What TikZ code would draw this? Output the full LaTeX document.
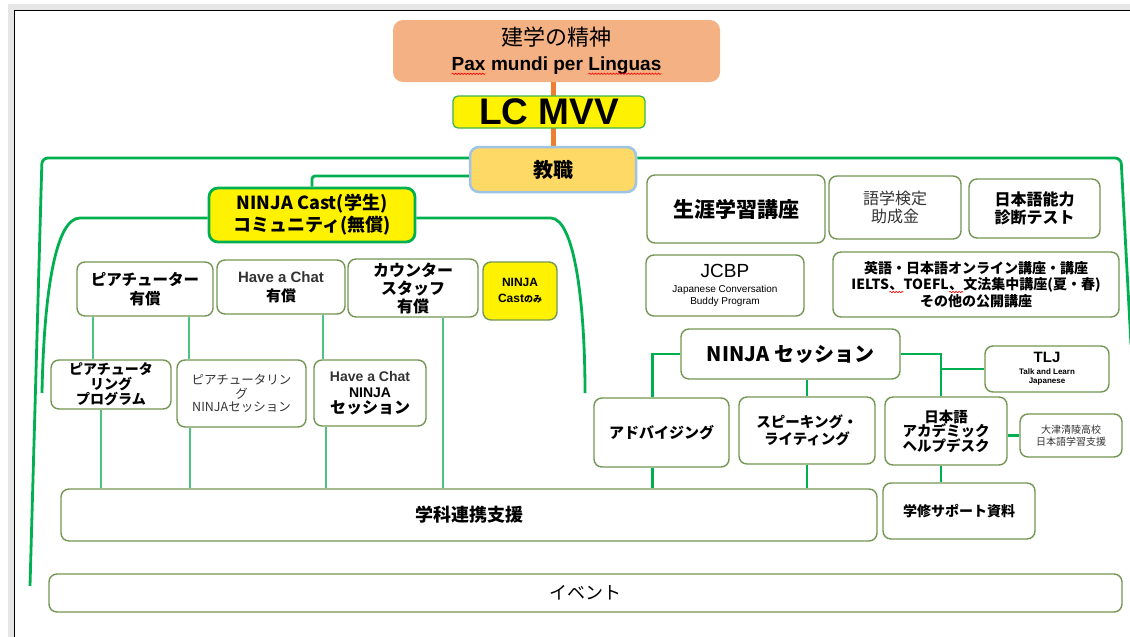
\documentclass[tikz,border=0pt]{standalone}
\usepackage{fontspec}
\setmainfont{Noto Sans CJK JP}
\newfontfamily\lat{Liberation Sans}
\usetikzlibrary{backgrounds,decorations.pathmorphing}
\definecolor{gc}{HTML}{00B050}
\definecolor{tc}{HTML}{4CC47F}
\definecolor{boxc}{HTML}{739653}
\definecolor{oc}{HTML}{ED7D31}
\definecolor{kc}{HTML}{F4B183}
\definecolor{kyc}{HTML}{FFD966}
\definecolor{kyb}{HTML}{9DC3E6}
\definecolor{lcb}{HTML}{3CB44B}
\definecolor{framec}{HTML}{E6E6E6}
\definecolor{framed}{HTML}{D0D0D0}
\definecolor{tg}{HTML}{333333}
\newcommand\fz[2]{\fontsize{#1}{#2}\selectfont}
\newcommand\rwave[1]{\tikz[baseline=(rw.base)]{\node[inner sep=0pt,outer sep=0pt,minimum width=0pt,minimum height=0pt,draw=none,fill=none,rounded corners=0pt,font={}] (rw) {#1};\draw[red,line width=0.6pt,rounded corners=0pt,decorate,decoration={snake,amplitude=0.7pt,segment length=3pt}] ([yshift=-3pt]rw.base west) -- ([yshift=-3pt]rw.base east);}}
\begin{document}
\begin{tikzpicture}[x=1pt,y=-1pt,
  box/.style={draw=boxc,line width=1.4pt,rounded corners=8pt,fill=white,align=center,inner sep=0pt,text=black},
  sz/.style 2 args={minimum width=#1pt,minimum height=#2pt},
  gline/.style={draw=gc,line width=2.8pt},
  tline/.style={draw=tc,line width=1.3pt},
  oline/.style={draw=oc,line width=5pt}]
\useasboundingbox (0,0) rectangle (1130,637);
% screen frame
\fill[framec] (8,4) rectangle (1130,10);
\fill[framec] (8,4) rectangle (14,637);
\draw[framed,line width=0.8pt] (14.4,637) -- (14.4,10.4) -- (1130,10.4);

% top nodes
\node[fill=kc,rounded corners=10pt,sz={327}{62},align=center,inner sep=0pt,font=\fz{22}{25}] (kengaku) at (556.5,51)
  {建学の精神\\{\lat\bfseries\fz{19}{24}\rwave{Pax} mundi per \rwave{Linguas}}};
\node[box,fill=yellow,draw=lcb,line width=1.3pt,rounded corners=5pt,sz={192}{32},font=\lat\bfseries\fz{37}{40}] (lcmvv) at (549,112)
  {LC MVV};
\node[box,fill=kyc,draw=kyb,line width=2.5pt,rounded corners=9pt,sz={166}{45},font=\bfseries\fz{20}{24}] (kyoshoku) at (553,169.5)
  {教職};
\node[box,fill=yellow,draw=gc,line width=2.8pt,rounded corners=9pt,sz={206}{54},font=\bfseries\fz{18}{22}] (ninjacast) at (312,215)
  {NINJA Cast(学生)\\コミュニティ(無償)};

% left cluster
\node[box,sz={136}{54},font=\bfseries\fz{15.5}{19}] (peer) at (145,289) {ピアチューター\\有償};
\node[box,sz={128}{54},font=\bfseries\fz{15}{19}] (chat) at (281,287) {{\lat\color{tg}Have a Chat}\\有償};
\node[box,sz={130}{58},font=\bfseries\fz{16}{18}] (counter) at (413,288) {カウンター\\スタッフ\\有償};
\node[box,fill=yellow,sz={74}{58},font=\bfseries\fz{12}{16}] (castonly) at (520,291)
  {{\lat NINJA}\\{\lat Cast}{\fz{9}{16}のみ}};
\node[box,sz={120}{49},font=\bfseries\fz{14}{15}] (peerprog) at (111,384.5) {ピアチュータ\\リング\\プログラム};
\node[box,sz={129}{67},font=\fz{12.5}{13.5},text=tg] (peerninja) at (241.5,393.5) {ピアチュータリン\\グ\\NINJAセッション};
\node[box,sz={112}{66},font=\bfseries\fz{14}{16}] (chatninja) at (370,393)
  {{\lat\color{tg}Have a Chat}\\{\lat NINJA}\\{\fz{16}{16}セッション}};
\node[box,sz={816}{52},font=\bfseries\fz{18}{22}] (gakka) at (469,515) {学科連携支援};
\node[box,sz={1073}{38},font=\fz{18}{22}] (event) at (585.5,593) {イベント};

% right cluster
\node[box,sz={178}{68},font=\bfseries\fz{21}{24}] (shogai) at (736,209) {生涯学習講座};
\node[box,sz={132}{63},font=\fz{16}{18},text=tg] (gogaku) at (895,207.5) {語学検定\\助成金};
\node[box,sz={131}{59},font=\bfseries\fz{16}{18}] (nihongo) at (1034.5,208.5) {日本語能力\\診断テスト};
\node[box,sz={158}{61},font=\lat\fz{10}{12}] (jcbp) at (725,285.5)
  {{\fz{19}{15}JCBP}\\[3pt]Japanese Conversation\\Buddy Program};
\node[box,sz={286}{65},font=\bfseries\fz{14}{15.5}] (eigo) at (976,284.5)
  {英語・日本語オンライン講座・講座\\IELTS\rwave{、}TOEFL\rwave{、}文法集中講座(夏・春)\\その他の公開講座};
\node[box,sz={219}{50},font=\bfseries\fz{20}{24}] (ninjasess) at (790.5,354) {NINJA セッション};
\node[box,sz={124}{46},font=\lat\bfseries\fz{8}{9.5}] (tlj) at (1047,369) {{\fz{15}{12}TLJ}\\[2pt]Talk and Learn\\Japanese};
\node[box,sz={135}{69},font=\bfseries\fz{15}{18}] (advising) at (661.5,432.5) {アドバイジング};
\node[box,sz={136}{67},font=\bfseries\fz{14.5}{17}] (speaking) at (807,430.5) {スピーキング・\\ライティング};
\node[box,sz={122}{68},font=\bfseries\fz{14.5}{14.5}] (academic) at (946,431) {日本語\\アカデミック\\ヘルプデスク};
\node[box,sz={102}{43},font=\fz{10}{11.5},text=tg] (otsu) at (1071,435.5) {大津清陵高校\\日本語学習支援};
\node[box,sz={152}{56},font=\bfseries\fz{14}{18}] (gakushu) at (959,511) {学修サポート資料};

% orange spine
\begin{pgfonlayer}{background}
\draw[oline] (kyoshoku.north |- kengaku.south) -- (kyoshoku.north);
\end{pgfonlayer}

% green brackets
\coordinate (yo) at (0,158);
\coordinate (ys) at (0,176);
\coordinate (yi) at (0,218);
\coordinate (oLend) at (30,586);
\coordinate (oRend) at (1131,345);
\coordinate (iLend) at (42,393);
\coordinate (iRend) at (585,393);
\draw[gline,rounded corners=6pt] (kyoshoku.west |- yo) -- (42,158) -- (oLend);
\draw[gline,rounded corners=6pt] (kyoshoku.east |- yo) -- (1121,158) -- (oRend);
\draw[gline,rounded corners=3pt] (kyoshoku.west |- ys) -| (ninjacast.north);
\draw[gline] (ninjacast.west |- yi) -- (80,218) .. controls (56,218) and (44,290) .. (iLend);
\draw[gline] (ninjacast.east |- yi) -- (551,218) .. controls (574,219) and (585,300) .. (iRend);

% thin connectors (left)
\draw[tline] ([xshift=-52pt]peer.south) -- ([xshift=-52pt]peer.south |- peerprog.north);
\draw[tline] ([xshift=44pt]peer.south) -- ([xshift=44pt]peer.south |- peerninja.north);
\draw[tline] ([xshift=42pt]chat.south) -- ([xshift=42pt]chat.south |- chatninja.north);
\draw[tline] ([xshift=30pt]counter.south) -- ([xshift=30pt]counter.south |- gakka.north);
\draw[tline] ([xshift=-10pt]peerprog.south) -- ([xshift=-10pt]peerprog.south |- gakka.north);
\draw[tline] ([xshift=-51.5pt]peerninja.south) -- ([xshift=-51.5pt]peerninja.south |- gakka.north);
\draw[tline] ([xshift=-44pt]chatninja.south) -- ([xshift=-44pt]chatninja.south |- gakka.north);

% right connectors
\draw[gline] (ninjasess.west) -| ([xshift=-9pt]advising.north);
\draw[gline] ([xshift=-9pt]advising.south) -- ([xshift=-9pt]advising.south |- gakka.north);
\draw[gline] (speaking.north |- ninjasess.south) -- (speaking.north);
\draw[gline] (speaking.south) -- (speaking.south |- gakka.north);
\draw[gline] (ninjasess.east) -| ([xshift=-5pt]academic.north);
\draw[gline] (tlj.west) -- ([xshift=-5pt]academic.north |- tlj.west);
\draw[gline] (otsu.west) -- (otsu.west -| academic.east);
\draw[gline] ([xshift=-5pt]academic.south) -- ([xshift=-5pt]academic.south |- gakushu.north);
\end{tikzpicture}
\end{document}
